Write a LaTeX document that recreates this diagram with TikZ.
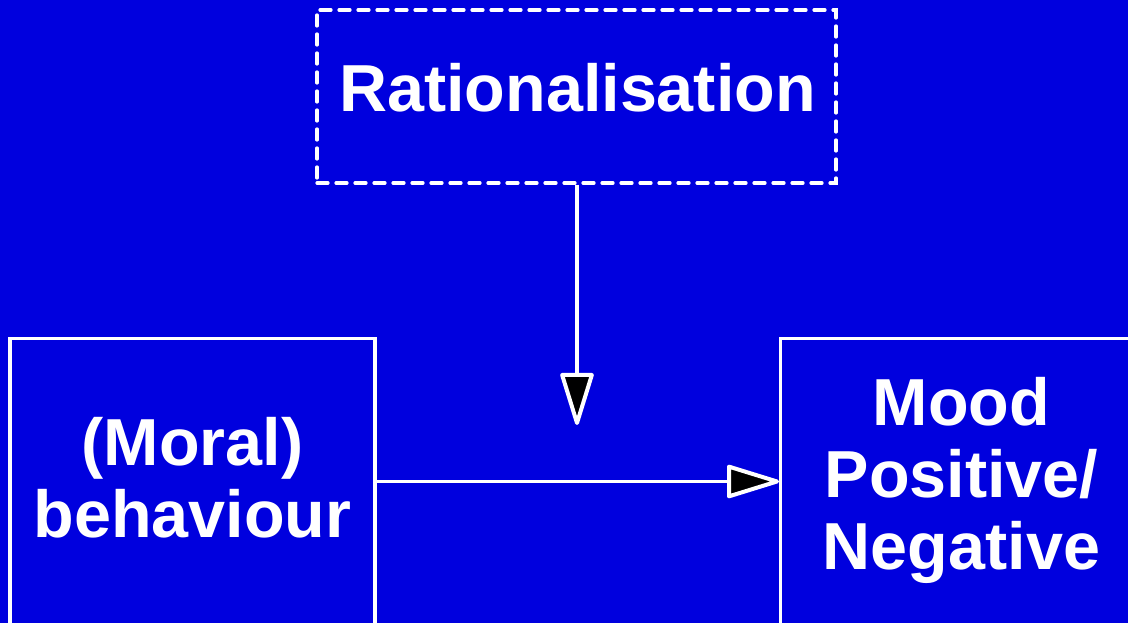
\documentclass[tikz,border=0pt]{standalone}
\usepackage{fontspec}
\setmainfont{Liberation Sans}
\usetikzlibrary{arrows.meta}
\definecolor{bgblue}{RGB}{0,0,222}
\begin{document}
\begin{tikzpicture}[x=1pt,y=1pt,
  boxline/.style={draw=white,line width=3.2pt},
  labeltext/.style={text=white,font=\fontsize{66.5}{72}\selectfont\bfseries,align=center,inner sep=0pt},
  arr/.style={draw=white,line width=3.2pt,line join=round,-{Triangle[length=57pt,width=34pt,fill=black,line width=4pt,round]}},
]
\fill[bgblue] (0,0) rectangle (1128,623);
\useasboundingbox (0,0) rectangle (1128,623);
\clip (0,0) rectangle (1128,623);
% dashed box
\node[boxline,dash pattern=on 11pt off 8pt,line cap=round,minimum width=519pt,minimum height=173pt,inner sep=0pt] (rat) at (576.5,526.5) {};
\node[labeltext,anchor=base] (rattext) at (577.5,511) {Rationalisation};
% left box
\node[boxline,minimum width=365pt,minimum height=330pt,inner sep=0pt,anchor=north] (lbox) at (192.5,286) {};
\node[labeltext] (ltext) at (192.5,145) {(Moral)\\behaviour};
% right box
\node[boxline,minimum width=365pt,minimum height=330pt,inner sep=0pt,anchor=north west] (rbox) at (779,286) {};
\node[labeltext] (rtext) at (961.5,143) {Mood\\Positive/\\Negative};
% connectors
\coordinate (tipv) at (577,198);
\draw[arr] (rat.south -| tipv) -- (tipv);
\draw[arr] (lbox.east |- 0,141.5) -- (rbox.west |- 0,141.5);
\end{tikzpicture}
\end{document}
